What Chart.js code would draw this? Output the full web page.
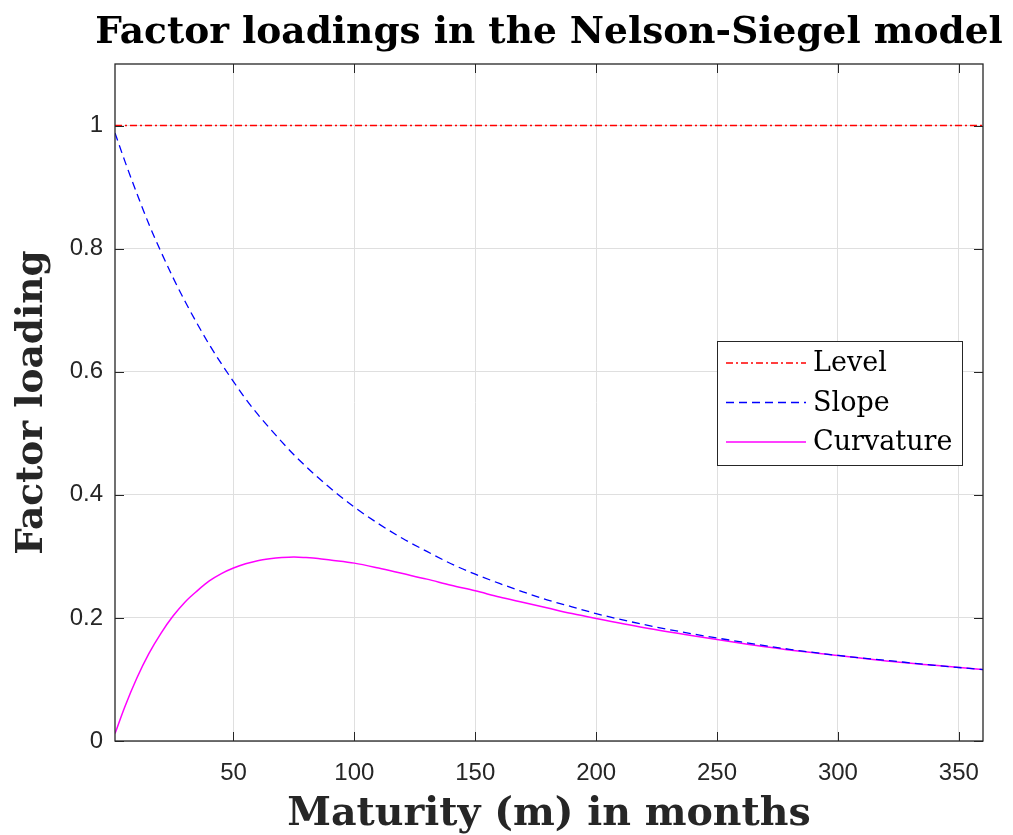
<!DOCTYPE html>
<html>
<head>
<script src="https://cdn.jsdelivr.net/npm/chart.js@4.4.0/dist/chart.umd.min.js"></script>
<style>
  body { margin: 0; background: #fff; }
</style>
</head>
<body>
<div style="width:1013px; height:835px">
<canvas id="myChart" width="1013" height="835"></canvas>
</div>
<script>
  var months = [1, 5, 10, 15, 20, 25, 30, 35, 40, 45, 50, 55, 60, 65, 70, 75, 80, 85, 90, 100,
                110, 120, 130, 140, 150, 160, 170, 180, 190, 200, 220, 240, 260,
                280, 300, 320, 340, 360];
  var slope = [0.988, 0.943, 0.890, 0.840, 0.795, 0.753, 0.714, 0.678, 0.644, 0.613,
               0.584, 0.556, 0.531, 0.508, 0.486, 0.465, 0.446, 0.428, 0.411, 0.380,
               0.353, 0.329, 0.308, 0.288, 0.271, 0.256, 0.242, 0.229, 0.218, 0.207,
               0.189, 0.174, 0.161, 0.149, 0.139, 0.131, 0.123, 0.116];
  var curvature = [0.012, 0.055, 0.102, 0.142, 0.175, 0.203, 0.226, 0.244, 0.260, 0.272,
                   0.281, 0.288, 0.293, 0.296, 0.298, 0.299, 0.298, 0.2965, 0.294, 0.289,
                   0.281, 0.272, 0.263, 0.253, 0.244, 0.234, 0.225, 0.216, 0.207, 0.199,
                   0.184, 0.171, 0.159, 0.148, 0.139, 0.130, 0.123, 0.116];
  var levelMonths = [1, 360];
  var level = [1, 1];

  var xTicks = [50, 100, 150, 200, 250, 300, 350];
  var yTicks = [0, 0.2, 0.4, 0.6, 0.8, 1];

  var chartTitle = 'Factor loadings in the Nelson-Siegel model';

  function toPoints(xs, ys) {
    var pts = [];
    for (var i = 0; i < xs.length; i++) pts.push({x: xs[i], y: ys[i]});
    return pts;
  }

  var axisColor = '#262626';
  var tickFont = {family: 'Liberation Sans', size: 24};
  var serifBold = 'DejaVu Serif';

  // MATLAB style: title centred over the axes, box, inward ticks, legend inside
  var matlabAxes = {
    id: 'matlabAxes',
    afterDatasetsDraw: function(chart) {
      var ctx = chart.ctx, a = chart.chartArea;
      var xs = chart.scales.x, ys = chart.scales.y;
      ctx.save();
      ctx.strokeStyle = axisColor;
      ctx.lineWidth = 1;
      ctx.beginPath();
      xTicks.forEach(function(v) {
        var p = Math.round(xs.getPixelForValue(v)) + 0.5;
        ctx.moveTo(p, a.bottom); ctx.lineTo(p, a.bottom - 9);
        ctx.moveTo(p, a.top); ctx.lineTo(p, a.top + 9);
      });
      yTicks.forEach(function(v) {
        var p = Math.round(ys.getPixelForValue(v)) + 0.5;
        ctx.moveTo(a.left, p); ctx.lineTo(a.left + 9, p);
        ctx.moveTo(a.right, p); ctx.lineTo(a.right - 9, p);
      });
      ctx.stroke();
      ctx.lineWidth = 1.3;
      ctx.strokeRect(a.left, a.top, a.right - a.left, a.bottom - a.top);

      // title
      ctx.fillStyle = '#000';
      ctx.font = 'bold 37.5px "DejaVu Serif"';
      ctx.textAlign = 'center';
      ctx.textBaseline = 'alphabetic';
      ctx.fillText(chartTitle, (a.left + a.right) / 2, a.top - 21);

      // legend
      var bx = a.right - 266, by = a.top + 277, bw = 245, bh = 124;
      ctx.fillStyle = '#fff';
      ctx.fillRect(bx, by, bw, bh);
      ctx.lineWidth = 1;
      ctx.strokeRect(bx + 0.5, by + 0.5, bw, bh);
      ctx.font = '27px "DejaVu Serif"';
      ctx.textBaseline = 'middle';
      ctx.textAlign = 'left';
      chart.data.datasets.forEach(function(ds, i) {
        var y = by + 22 + i * 39.5;
        ctx.strokeStyle = ds.borderColor;
        ctx.lineWidth = ds.borderWidth;
        ctx.setLineDash(ds.borderDash || []);
        ctx.beginPath();
        ctx.moveTo(bx + 9, y); ctx.lineTo(bx + 89, y);
        ctx.stroke();
        ctx.setLineDash([]);
        ctx.fillStyle = '#000';
        ctx.fillText(ds.label, bx + 96, y + 1);
      });
      ctx.restore();
    }
  };

  var ctx = document.getElementById('myChart').getContext('2d');
  var myChart = new Chart(ctx, {
    type: 'line',
    data: {
      datasets: [
        {
          label: 'Level',
          data: toPoints(levelMonths, level),
          borderColor: '#ff0000',
          borderWidth: 1.6,
          borderDash: [7, 3, 2, 3],
          pointRadius: 0,
          fill: false
        },
        {
          label: 'Slope',
          data: toPoints(months, slope),
          borderColor: '#0000ff',
          borderWidth: 1.3,
          borderDash: [8, 5],
          pointRadius: 0,
          cubicInterpolationMode: 'monotone',
          fill: false
        },
        {
          label: 'Curvature',
          data: toPoints(months, curvature),
          borderColor: '#ff00ff',
          borderWidth: 1.5,
          pointRadius: 0,
          cubicInterpolationMode: 'monotone',
          fill: false
        }
      ]
    },
    options: {
      responsive: false,
      animation: false,
      devicePixelRatio: 1,
      layout: {padding: {left: 0, right: 30, top: 64, bottom: 0}},
      plugins: {
        legend: {display: false},
        tooltip: {enabled: false},
        title: {display: false}
      },
      scales: {
        x: {
          type: 'linear',
          min: 1,
          max: 360,
          afterBuildTicks: function(s) { s.ticks = xTicks.map(function(v) { return {value: v}; }); },
          afterFit: function(s) { s.height = 94; },
          ticks: {font: tickFont, color: axisColor, padding: 18, maxRotation: 0,
                  callback: function(v) { return String(v); }},
          grid: {color: '#dfdfdf', drawTicks: false},
          border: {display: false},
          title: {
            display: true,
            text: 'Maturity (m) in months',
            color: axisColor,
            font: {family: serifBold, size: 39.5, weight: 'bold', lineHeight: 1.0},
            padding: {top: 0, bottom: 0.5}
          }
        },
        y: {
          min: 0,
          max: 1.1,
          afterBuildTicks: function(s) { s.ticks = yTicks.map(function(v) { return {value: v}; }); },
          afterFit: function(s) { s.width = 115; },
          ticks: {font: tickFont, color: axisColor, padding: 12,
                  callback: function(v) { return String(+v.toFixed(1)); }},
          grid: {color: '#dfdfdf', drawTicks: false},
          border: {display: false},
          title: {
            display: true,
            text: 'Factor loading',
            color: axisColor,
            font: {family: serifBold, size: 37.5, weight: 'bold', lineHeight: 1.0},
            padding: {top: 14, bottom: 0}
          }
        }
      }
    },
    plugins: [matlabAxes]
  });
</script>
</body>
</html>
